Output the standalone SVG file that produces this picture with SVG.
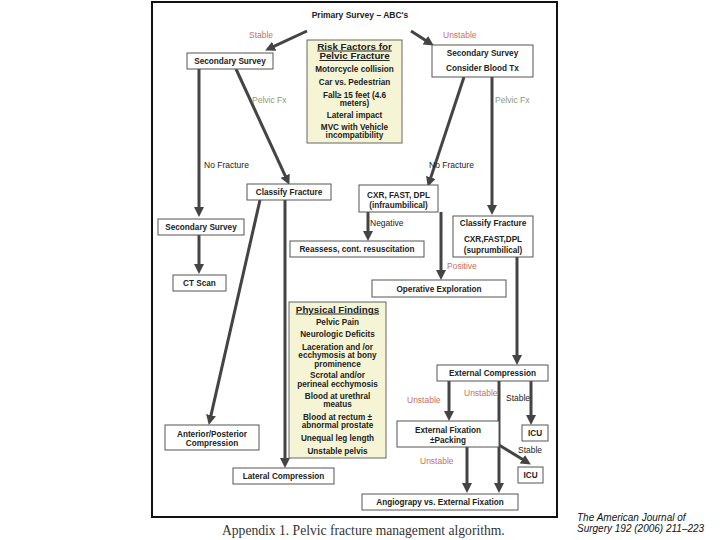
<svg xmlns="http://www.w3.org/2000/svg" width="720" height="540" viewBox="0 0 720 540">
<defs>
<marker id="ah" viewBox="0 0 10 10" markerUnits="userSpaceOnUse" markerWidth="10" markerHeight="10" refX="1" refY="5" orient="auto">
<path d="M0,0 L10,5 L0,10 z" fill="#444"/>
</marker>
</defs>
<style>
.box{fill:#fff;stroke:#555;stroke-width:1}
.ybox{fill:#f5f5d6;stroke:#666;stroke-width:1}
.t{font-family:"Liberation Sans",Arial,sans-serif;font-size:8.2px;font-weight:bold;fill:#222;text-anchor:middle}
.h{font-family:"Liberation Sans",Arial,sans-serif;font-size:9.8px;font-weight:bold;fill:#222;text-anchor:middle;text-decoration:underline}
.lr{font-family:"Liberation Sans",Arial,sans-serif;font-size:8.5px;fill:#c8705f}
.lg{font-family:"Liberation Sans",Arial,sans-serif;font-size:8.5px;fill:#8a9a78}
.lb{font-family:"Liberation Sans",Arial,sans-serif;font-size:8.5px;fill:#222}
.c line{stroke:#444;stroke-width:3;marker-end:url(#ah)}
</style>
<rect width="720" height="540" fill="#fff"/>
<rect x="152" y="2" width="405" height="515" fill="none" stroke="#111" stroke-width="2"/>

<g id="title"><text class="t" x="360" y="18" style="font-size:8.5px">Primary Survey – ABC's</text></g>

<g class="c" id="connectors">
<line x1="307" y1="31" x2="273.3" y2="46.6"/>
<line x1="411" y1="31" x2="426.2" y2="40.7"/>
<line x1="199" y1="69" x2="199" y2="208"/>
<line x1="236" y1="69" x2="285.6" y2="176.7"/>
<line x1="464" y1="77" x2="430.5" y2="178.4"/>
<line x1="492" y1="77" x2="492" y2="206"/>
<line x1="199" y1="235" x2="199" y2="265"/>
<line x1="368" y1="212" x2="368" y2="232"/>
<line x1="441" y1="212" x2="441" y2="271"/>
<line x1="517" y1="257" x2="517" y2="356"/>
<line x1="260" y1="200" x2="210.8" y2="416.2"/>
<line x1="285" y1="200" x2="285" y2="459"/>
<line x1="449" y1="381" x2="449" y2="412"/>
<line x1="499" y1="381" x2="499" y2="484"/>
<line x1="531" y1="381" x2="531" y2="416"/>
<line x1="467" y1="447" x2="467" y2="484"/>
<line x1="499" y1="445" x2="523.2" y2="459.8"/>
</g>

<g id="labels">
<text class="lr" x="249" y="38">Stable</text>
<text class="lr" x="443" y="38">Unstable</text>
<text class="lg" x="252" y="102.5">Pelvic Fx</text>
<text class="lg" x="495" y="102.5">Pelvic Fx</text>
<text class="lb" x="204" y="168">No Fracture</text>
<text class="lb" x="429" y="168">No Fracture</text>
<text class="lb" x="370" y="226">Negative</text>
<text class="lr" x="447" y="269">Positive</text>
<text class="lr" x="407" y="403">Unstable</text>
<text class="lr" x="464" y="396">Unstable</text>
<text class="lb" x="506" y="401">Stable</text>
<text class="lb" x="518" y="452.5">Stable</text>
<text class="lr" x="420" y="463.5">Unstable</text>
</g>

<g id="ss-left"><rect class="box" x="187" y="53" width="86" height="16"/><text class="t" x="230" y="64">Secondary Survey</text></g>

<g id="risk"><rect class="ybox" x="307" y="40" width="95" height="103"/>
<text class="h" x="354.5" y="49.5">Risk Factors for</text>
<text class="h" x="354.5" y="59">Pelvic Fracture</text>
<text class="t" x="354.5" y="72">Motorcycle collision</text>
<text class="t" x="354.5" y="85">Car vs. Pedestrian</text>
<text class="t" x="354.5" y="97.5">Fall≥ 15 feet (4.6</text>
<text class="t" x="354.5" y="106">meters)</text>
<text class="t" x="354.5" y="118">Lateral impact</text>
<text class="t" x="354.5" y="129.5">MVC with Vehicle</text>
<text class="t" x="354.5" y="138">incompatibility</text>
</g>

<g id="ss-right"><rect class="box" x="432" y="45" width="101" height="32"/>
<text class="t" x="482.5" y="56">Secondary Survey</text>
<text class="t" x="482.5" y="70.5">Consider Blood Tx</text></g>

<g id="classify-left"><rect class="box" x="247" y="184" width="84" height="16"/><text class="t" x="289" y="195">Classify Fracture</text></g>

<g id="cxr-infra"><rect class="box" x="359" y="185" width="79" height="27"/>
<text class="t" x="398.5" y="198">CXR, FAST, DPL</text>
<text class="t" x="398.5" y="208">(infraumbilical)</text></g>

<g id="ss-2"><rect class="box" x="158" y="219" width="86" height="16"/><text class="t" x="201" y="230">Secondary Survey</text></g>

<g id="classify-right"><rect class="box" x="453" y="216" width="80" height="41"/>
<text class="t" x="493" y="226">Classify Fracture</text>
<text class="t" x="493" y="242">CXR,FAST,DPL</text>
<text class="t" x="493" y="253">(suprumbilical)</text></g>

<g id="reassess"><rect class="box" x="290" y="241" width="134" height="16"/><text class="t" x="357" y="252">Reassess, cont. resuscitation</text></g>

<g id="ct"><rect class="box" x="173" y="275" width="53" height="16"/><text class="t" x="199.5" y="286">CT Scan</text></g>

<g id="operative"><rect class="box" x="372" y="280" width="134" height="17"/><text class="t" x="439" y="291.5">Operative Exploration</text></g>

<g id="physical"><rect class="ybox" x="289" y="302" width="97" height="156"/>
<text class="h" x="337.5" y="312.5">Physical Findings</text>
<text class="t" x="337.5" y="325">Pelvic Pain</text>
<text class="t" x="337.5" y="337">Neurologic Deficits</text>
<text class="t" x="337.5" y="349.5">Laceration and /or</text>
<text class="t" x="337.5" y="358">ecchymosis at bony</text>
<text class="t" x="337.5" y="366.5">prominence</text>
<text class="t" x="337.5" y="378">Scrotal and/or</text>
<text class="t" x="337.5" y="386.5">perineal ecchymosis</text>
<text class="t" x="337.5" y="398.5">Blood at urethral</text>
<text class="t" x="337.5" y="407">meatus</text>
<text class="t" x="337.5" y="419.5">Blood at rectum ±</text>
<text class="t" x="337.5" y="428">abnormal prostate</text>
<text class="t" x="337.5" y="441">Unequal leg length</text>
<text class="t" x="337.5" y="454">Unstable pelvis</text>
</g>

<g id="ext-comp"><rect class="box" x="437" y="365" width="111" height="16"/><text class="t" x="492.5" y="376">External Compression</text></g>

<g id="icu-1"><rect class="box" x="522" y="425" width="26" height="16"/><text class="t" x="535" y="436">ICU</text></g>

<g id="ext-fix"><rect class="box" x="397" y="421" width="102" height="26"/>
<text class="t" x="448" y="432.5">External Fixation</text>
<text class="t" x="448" y="442.5">±Packing</text></g>

<g id="icu-2"><rect class="box" x="518" y="467" width="25" height="16"/><text class="t" x="530.5" y="478">ICU</text></g>

<g id="ap-comp"><rect class="box" x="165" y="425" width="94" height="25"/>
<text class="t" x="212" y="436.5">Anterior/Posterior</text>
<text class="t" x="212" y="446">Compression</text></g>

<g id="lat-comp"><rect class="box" x="233" y="468" width="101" height="16"/><text class="t" x="283.5" y="479">Lateral Compression</text></g>

<g id="angio"><rect class="box" x="362" y="494" width="156" height="16"/><text class="t" x="440" y="505">Angiograpy vs. External Fixation</text></g>

<text x="222" y="535" style="font-family:'Liberation Serif','Times New Roman',serif;font-size:13.6px;fill:#333">Appendix 1. Pelvic fracture management algorithm.</text>
<text x="577" y="521" style="font-family:'Liberation Sans',Arial,sans-serif;font-size:10px;font-style:italic;fill:#111">The American Journal of</text>
<text x="577" y="532" style="font-family:'Liberation Sans',Arial,sans-serif;font-size:10px;font-style:italic;fill:#111">Surgery 192 (2006) 211–223</text>
</svg>
